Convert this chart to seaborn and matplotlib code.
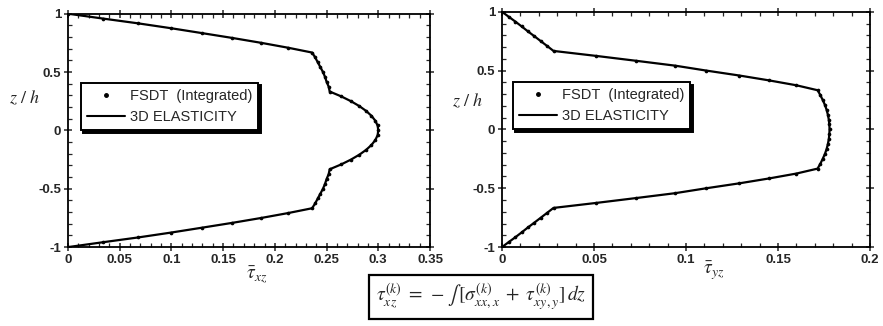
import matplotlib
matplotlib.use('Agg')
import matplotlib.pyplot as plt
import pandas as pd
import seaborn as sns
from matplotlib.lines import Line2D
from matplotlib.ticker import MultipleLocator

# thickness coordinate z/h, top to bottom (step 1/24)
z_h = [1.0, 0.958, 0.917, 0.875, 0.833, 0.792, 0.75, 0.708, 0.667,
       0.625, 0.583, 0.542, 0.5, 0.458, 0.417, 0.375, 0.333,
       0.292, 0.25, 0.208, 0.167, 0.125, 0.083, 0.042, 0.0,
       -0.042, -0.083, -0.125, -0.167, -0.208, -0.25, -0.292, -0.333,
       -0.375, -0.417, -0.458, -0.5, -0.542, -0.583, -0.625, -0.667,
       -0.708, -0.75, -0.792, -0.833, -0.875, -0.917, -0.958, -1.0]

tau_xz = [0.0, 0.034, 0.068, 0.100, 0.130, 0.159, 0.187, 0.213, 0.236,
          0.239, 0.2415, 0.244, 0.2465, 0.2485, 0.250, 0.252, 0.253,
          0.264, 0.2736, 0.2817, 0.2882, 0.2934, 0.2971, 0.2993, 0.300,
          0.2993, 0.2971, 0.2934, 0.2882, 0.2817, 0.2736, 0.264, 0.253,
          0.252, 0.250, 0.2485, 0.2465, 0.244, 0.2415, 0.239, 0.236,
          0.213, 0.187, 0.159, 0.130, 0.100, 0.068, 0.034, 0.0]

tau_yz = [0.0, 0.0036, 0.0072, 0.0107, 0.0141, 0.0176, 0.0211, 0.0246, 0.028,
          0.051, 0.073, 0.094, 0.111, 0.129, 0.145, 0.160, 0.1715,
          0.1730, 0.1743, 0.1755, 0.1764, 0.1771, 0.1776, 0.1779, 0.178,
          0.1779, 0.1776, 0.1771, 0.1764, 0.1755, 0.1743, 0.1730, 0.1715,
          0.160, 0.145, 0.129, 0.111, 0.094, 0.073, 0.051, 0.028,
          0.0246, 0.0211, 0.0176, 0.0141, 0.0107, 0.0072, 0.0036, 0.0]

xz_ticks = [0, 0.05, 0.1, 0.15, 0.2, 0.25, 0.3, 0.35]
xz_ticklabels = ["0", "0.05", "0.1", "0.15", "0.2", "0.25", "0.3", "0.35"]
yz_ticks = [0, 0.05, 0.1, 0.15, 0.2]
yz_ticklabels = ["0", "0.05", "0.1", "0.15", "0.2"]
z_ticks = [-1, -0.5, 0, 0.5, 1]
z_ticklabels = ["-1", "-0.5", "0", "0.5", "1"]

df = pd.DataFrame({"z": z_h, "xz": tau_xz, "yz": tau_yz})

sns.set_style("ticks")
plt.rcParams['font.family'] = ['Liberation Sans', 'DejaVu Sans']
plt.rcParams['mathtext.fontset'] = 'stix'

fig = plt.figure(figsize=(8.83, 3.26), dpi=100)
ax1 = fig.add_axes([0.077, 0.242, 0.410, 0.716])
ax2 = fig.add_axes([0.5685, 0.242, 0.4168, 0.722])


def draw_panel(ax, col, xmax, ticks, ticklabels, leg_x):
    sns.lineplot(data=df, x=col, y="z", ax=ax, color="black", lw=1.6,
                 sort=False, estimator=None)
    sns.scatterplot(data=df, x=col, y="z", ax=ax, color="black", s=7,
                    linewidth=0, zorder=3)
    ax.set_xlim(0, xmax)
    ax.set_ylim(-1, 1)
    ax.set_xticks(ticks)
    ax.set_xticklabels(ticklabels)
    ax.set_yticks(z_ticks)
    ax.set_yticklabels(z_ticklabels)
    ax.xaxis.set_minor_locator(MultipleLocator(0.01))
    ax.yaxis.set_minor_locator(MultipleLocator(0.1))
    ax.tick_params(which="major", direction="inout", length=6, width=1.1,
                   top=True, right=True, labelsize=9.5, pad=2)
    ax.tick_params(which="minor", direction="in", length=3, width=0.9,
                   top=True, right=True)
    for lab in ax.get_xticklabels() + ax.get_yticklabels():
        lab.set_fontweight("bold")
    for sp in ax.spines.values():
        sp.set_visible(True)
        sp.set_linewidth(1.3)
        sp.set_color("black")
    ax.set_xlabel("")
    ax.set_ylabel("")
    handles = [Line2D([], [], ls="none", marker="o", ms=2.5, color="black"),
               Line2D([], [], color="black", lw=1.5)]
    leg = ax.legend(handles, ["FSDT  (Integrated)", "3D ELASTICITY"],
                    loc="lower left", bbox_to_anchor=(leg_x, 0.50),
                    borderaxespad=0, fancybox=False, frameon=True,
                    edgecolor="black", handlelength=2.6, handletextpad=0.3,
                    fontsize=10.5, borderpad=0.45, labelspacing=0.45,
                    shadow={"color": "black", "alpha": 1.0})
    leg.get_frame().set_linewidth(1.4)


draw_panel(ax1, "xz", 0.35, xz_ticks, xz_ticklabels, 0.035)
draw_panel(ax2, "yz", 0.2, yz_ticks, yz_ticklabels, 0.029)

fig.text(0.028, 0.70, "$z\\ /\\ h$", fontsize=13, ha="center", va="center")
fig.text(0.530, 0.69, "$z\\ /\\ h$", fontsize=13, ha="center", va="center")
fig.text(0.291, 0.155, r"$\bar{\tau}_{xz}$", fontsize=14, ha="center", va="center")
fig.text(0.808, 0.168, r"$\bar{\tau}_{yz}$", fontsize=14, ha="center", va="center")

fig.text(0.545, 0.088,
         r"$\tau_{xz}^{(k)}\;=\;-\int\,[\sigma_{xx,x}^{(k)}\;+\;\tau_{xy,y}^{(k)}]\,dz$",
         fontsize=14, ha="center", va="center",
         bbox=dict(boxstyle="square,pad=0.35", fc="white", ec="black", lw=1.6))

fig.savefig("out.png", dpi=100)
